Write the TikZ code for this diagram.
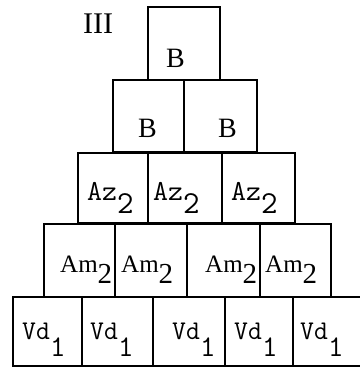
\documentclass[tikz,border=0pt]{standalone}
\usepackage{fontspec}
\setmainfont{Liberation Serif}
\usetikzlibrary{positioning}

% lowered, large index digit: drop, size, digit
\newcommand{\lowidx}[3]{\raisebox{-#1}{\fontsize{#2}{#2}\selectfont #3}}

\begin{document}
\begin{tikzpicture}[
  x=1pt, y=-1pt,
  cell/.style={draw=black, line width=1.6pt, inner sep=0pt, outer sep=0pt},
  rmlab/.style={anchor=base west, inner sep=0pt, font=\fontsize{28}{28}\selectfont},
  ttlab/.style={anchor=base west, inner sep=0pt, font=\ttfamily\fontsize{29}{29}\selectfont},
]
\useasboundingbox (0,0) rectangle (359,367);

% boxes, name/left/right/top/bottom
\foreach \n/\l/\r/\t/\b in {
  a1/148/220/7/80,
  b1/113/184/80/152, b2/184/257/80/152,
  c1/78/148/153/223, c2/148/222/153/223, c3/222/295/153/223,
  d1/44/115/224/297, d2/115/187/224/297, d3/187/260/224/297, d4/260/331/224/297,
  e1/13/82/297/366, e2/82/153/297/366, e3/153/225/297/366, e4/225/293/297/366,
  e5/293/364/297/366}{
  \node[cell, minimum width={(\r-\l)*1pt}, minimum height={(\b-\t)*1pt}]
    (\n) at ({(\l+\r)/2},{(\t+\b)/2}) {};
}

\node[anchor=base west, inner sep=0pt, font=\fontsize{30}{30}\selectfont]
  (num) at (83,33) {III};

% letters in the boxes
\foreach \n/\x/\y in {a1/166/67, b1/138/137, b2/218/137}{
  \node[rmlab] (l\n) at (\x,\y) {B};
}
\foreach \n/\x in {c1/87, c2/153, c3/231}{
  \node[ttlab] (l\n) at (\x,200) {Az\lowidx{13pt}{32}{2}};
}
\foreach \n/\x in {d1/60, d2/121, d3/205, d4/265}{
  \node[rmlab, font=\fontsize{25}{25}\selectfont] (l\n) at (\x,272)
    {Am\lowidx{11pt}{29}{2}};
}
\foreach \n/\x in {e1/22, e2/90, e3/172, e4/234, e5/300}{
  \node[ttlab, font=\ttfamily\fontsize{27}{27}\selectfont] (l\n) at (\x,339)
    {Vd\lowidx{17pt}{30}{1}};
}

\end{tikzpicture}
\end{document}
